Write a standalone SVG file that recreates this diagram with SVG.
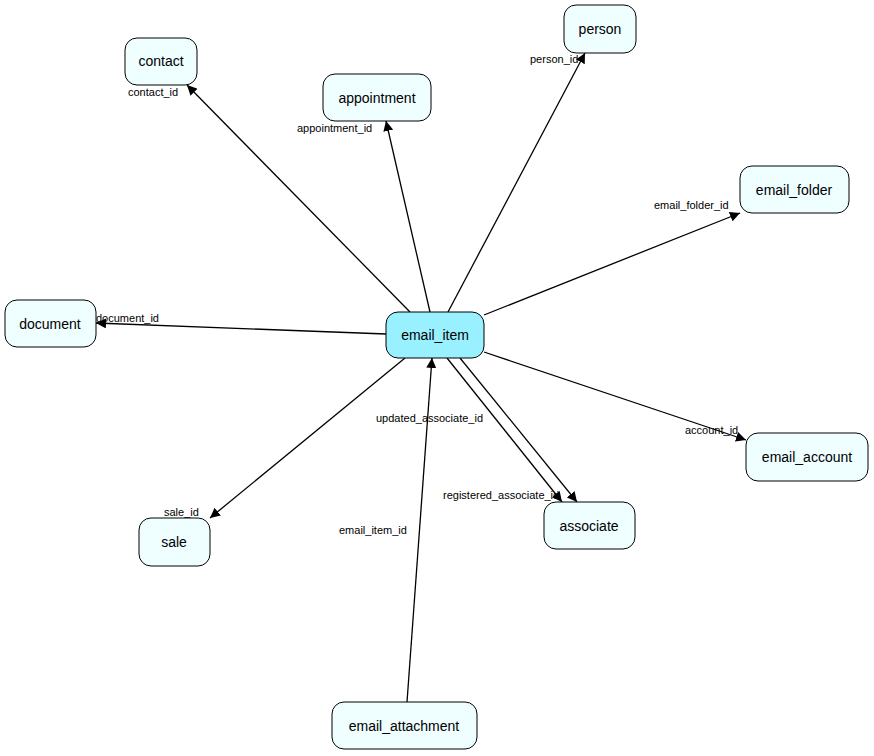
<svg xmlns="http://www.w3.org/2000/svg" width="874" height="756" viewBox="0 0 874 756">
<style>
.n rect{fill:#effeff;stroke:#000;stroke-width:1}
.n text{font-family:"Liberation Sans",Arial,sans-serif;font-size:14px;text-anchor:middle;fill:#000}
#edges line{stroke:#000;stroke-width:1.3;marker-end:url(#a)}
.l{font-family:"Liberation Sans",Arial,sans-serif;font-size:11px;fill:#000}
</style>
<defs><marker id="a" viewBox="0 0 10 10" refX="10" refY="5" markerWidth="10" markerHeight="10" markerUnits="userSpaceOnUse" orient="auto"><path d="M0,0L10,5L0,10z" fill="#000"/></marker></defs>
<rect width="874" height="756" fill="#fff"/>
<g id="edges">
<line x1="410" y1="312" x2="187" y2="85"/>
<line x1="430" y1="312" x2="386" y2="121"/>
<line x1="448" y1="312" x2="585" y2="53"/>
<line x1="484" y1="315" x2="740" y2="213"/>
<line x1="386" y1="334" x2="96" y2="323"/>
<line x1="484" y1="352" x2="746" y2="440"/>
<line x1="405" y1="358" x2="210" y2="518"/>
<line x1="447" y1="358" x2="562" y2="502"/>
<line x1="460" y1="358" x2="577" y2="502"/>
<line x1="407" y1="702" x2="432" y2="358"/>
<text class="l" x="128" y="96">contact_id</text>
<text class="l" x="297" y="132">appointment_id</text>
<text class="l" x="530" y="63">person_id</text>
<text class="l" x="654" y="209">email_folder_id</text>
<text class="l" x="96" y="322">document_id</text>
<text class="l" x="685" y="434">account_id</text>
<text class="l" x="164" y="516">sale_id</text>
<text class="l" x="376" y="422">updated_associate_id</text>
<text class="l" x="443" y="499">registered_associate_id</text>
<text class="l" x="339" y="534">email_item_id</text>
</g>
<g id="contact" class="n"><rect x="125" y="38" width="72" height="47" rx="12"/><text x="161" y="66">contact</text></g>
<g id="person" class="n"><rect x="564" y="5" width="72" height="48" rx="12"/><text x="600" y="34">person</text></g>
<g id="appointment" class="n"><rect x="323" y="74" width="108" height="47" rx="12"/><text x="377" y="103">appointment</text></g>
<g id="email_folder" class="n"><rect x="740" y="166" width="109" height="47" rx="12"/><text x="794" y="195">email_folder</text></g>
<g id="document" class="n"><rect x="5" y="300" width="91" height="47" rx="12"/><text x="50" y="329">document</text></g>
<g id="email_item" class="n"><rect x="386" y="312" width="98" height="46" rx="12" style="fill:#99f0ff"/><text x="435" y="340">email_item</text></g>
<g id="email_account" class="n"><rect x="746" y="433" width="122" height="48" rx="12"/><text x="807" y="462">email_account</text></g>
<g id="sale" class="n"><rect x="139" y="518" width="71" height="48" rx="12"/><text x="174" y="547">sale</text></g>
<g id="associate" class="n"><rect x="544" y="502" width="91" height="47" rx="12"/><text x="589" y="531">associate</text></g>
<g id="email_attachment" class="n"><rect x="332" y="702" width="145" height="47" rx="12"/><text x="404" y="731">email_attachment</text></g>
</svg>
